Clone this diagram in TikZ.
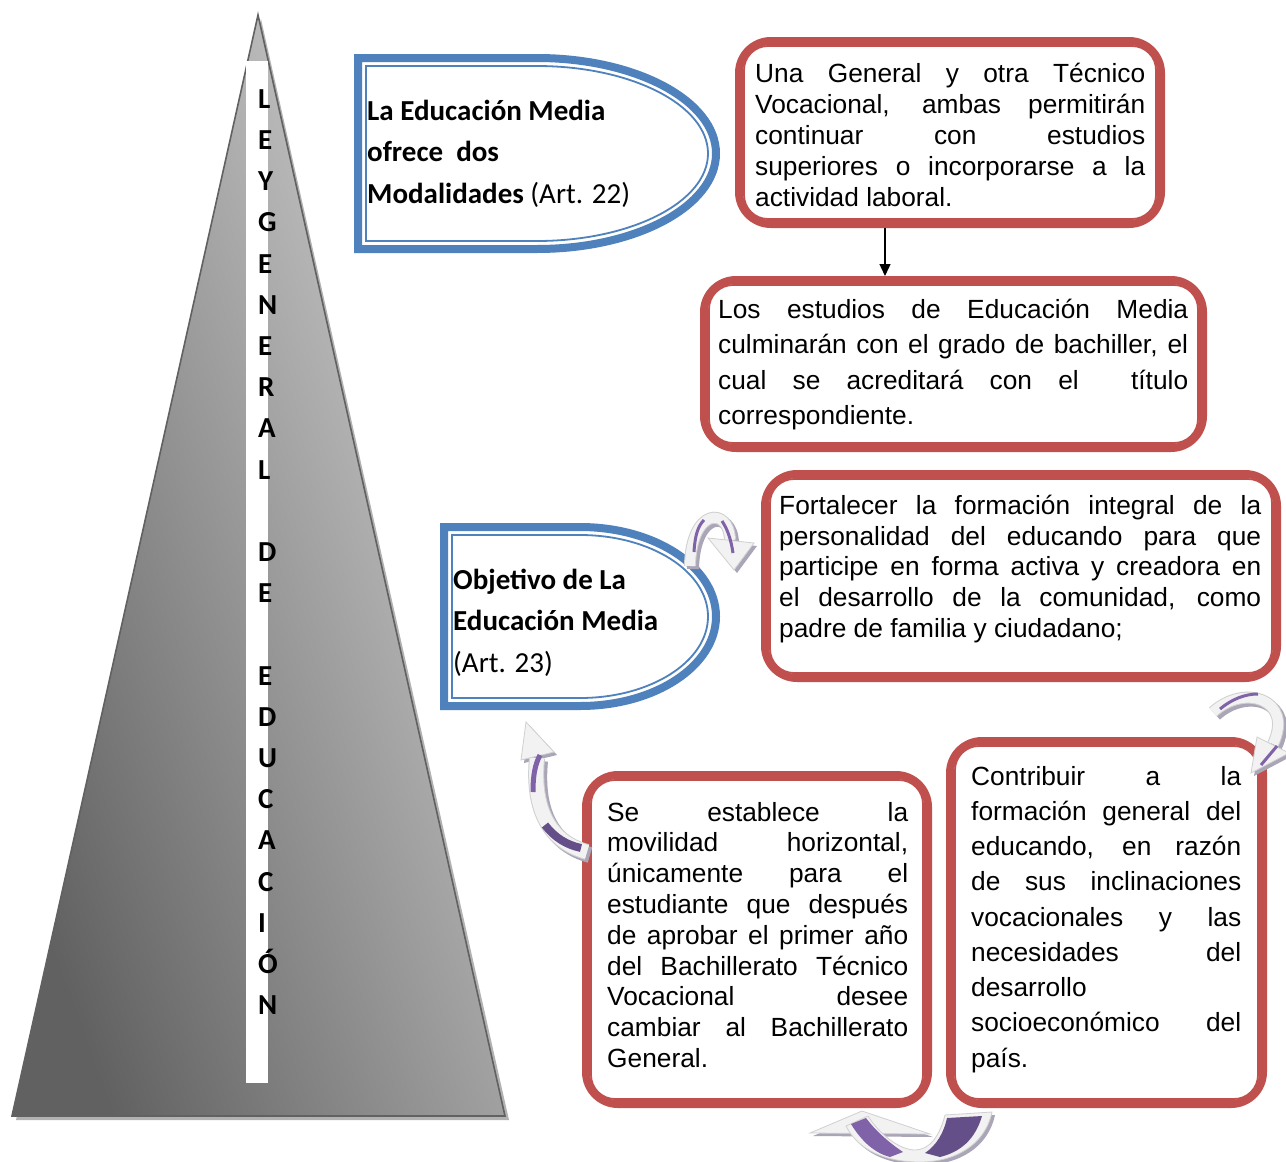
\documentclass[tikz,border=0pt]{standalone}
\usepackage{fontspec}
\setmainfont{Liberation Sans}
\newfontfamily\calfont{Carlito}
\usetikzlibrary{arrows.meta}
\definecolor{redb}{HTML}{C0504D}
\definecolor{blueb}{HTML}{4F81BD}
\definecolor{purp}{HTML}{7F62A8}
\definecolor{purpd}{HTML}{654F88}
\definecolor{abody}{HTML}{F2F2F2}
\definecolor{aedge}{HTML}{D0D0D0}
\definecolor{ashadow}{HTML}{ABA5B8}
\newcommand\J[2]{\makebox[#1][s]{\strut#2}}
\begin{document}
\begin{tikzpicture}[x=1pt,y=-1pt,
  redbox/.style={draw=redb,line width=8pt,rounded corners=32pt,inner sep=0pt,outer sep=4pt},
  redin/.style={draw=redb,line width=1.8pt,rounded corners=24pt},
  bluethick/.style={draw=blueb,line width=8pt},
  bluethin/.style={draw=blueb,line width=1.8pt},
  rtxt/.style={anchor=north west,inner sep=0pt,align=left},
  btxt/.style={anchor=north west,inner sep=0pt,align=left,font=\calfont\bfseries\fontsize{29}{41.5}\selectfont},
  letter/.style={anchor=base west,inner sep=0pt,font=\calfont\bfseries\fontsize{29}{35}\selectfont},
  ashad/.style={transform canvas={shift={(3pt,-3pt)}}},
  conn/.style={-{Triangle[length=12pt,width=11pt]},line width=1.4pt,black}
]
\useasboundingbox (0,0) rectangle (1286,1162);
\fill[white] (0,0) rectangle (1286,1162);

% ---------- pyramid ----------
\fill[black!30] (261,19) -- (509,1120) -- (16,1120) -- cycle;
\shade[top color=black!62,bottom color=black!18,shading angle=110] (258,15) -- (505,1116) -- (12,1116) -- cycle;
\draw[black!62,line width=1.6pt,line join=miter] (258,15) -- (505,1116) -- (12,1116) -- cycle;
\fill[white] (246,61) rectangle (268,1083);
\foreach \l/\k [count=\i] in {L/0,E/1,Y/2,G/3,E/4,N/5,E/6,R/7,A/8,L/9,D/11,E/12,E/14,D/15,U/16,C/17,A/18,C/19,I/20,Ó/21,N/22}
  \node[letter] (l\i) at (258,{108.3+41.2*\k}) {\l};

% ---------- blue shapes ----------
\draw[bluethick] (358,58) -- (537,58) arc[start angle=270,end angle=450,x radius=179,y radius=95.5] -- (358,249) -- cycle;
\draw[bluethin] (366,66) -- (537,66) arc[start angle=270,end angle=450,x radius=171,y radius=87.5] -- (366,241) -- cycle;
\node[btxt] (bt1) at (367,91) {\strut La Educación Media\\\strut ofrece\ \ dos\\\strut Modalidades {\mdseries (Art. 22)}};

\draw[bluethick] (444,527) -- (580,527) arc[start angle=270,end angle=450,x radius=136,y radius=89.5] -- (444,706) -- cycle;
\draw[bluethin] (452,535) -- (580,535) arc[start angle=270,end angle=450,x radius=128,y radius=81.5] -- (452,698) -- cycle;
\node[btxt] (bt2) at (453,560) {\strut Objetivo de La\\\strut Educación Media\\\strut {\mdseries (Art. 23)}};

% ---------- red boxes ----------
\node[redbox,minimum width=422pt,minimum height=183pt] (b1) at (950,132.5) {};
\node[redbox,minimum width=499pt,minimum height=168pt] (b2) at (953.5,364) {};
\node[redbox,minimum width=512pt,minimum height=204pt] (b3) at (1021,576) {};
\node[redbox,minimum width=342pt,minimum height=329pt] (b4) at (757,939.5) {};
\node[redbox,minimum width=313pt,minimum height=363pt] (b5) at (1106.5,922.5) {};
\foreach \b in {b1,b2,b3,b4,b5}
  \draw[redin] ([shift={(9,9)}]\b.north west) rectangle ([shift={(-9,-9)}]\b.south east);

\node[rtxt,font=\fontsize{26.3}{31}\selectfont] (t1) at (755,60.3) {%
\J{390pt}{Una General y otra Técnico}\\
\J{390pt}{Vocacional, ambas permitirán}\\
\J{390pt}{continuar con estudios}\\
\J{390pt}{superiores o incorporarse a la}\\
\strut actividad laboral.};

\node[rtxt,font=\fontsize{26.3}{35.5}\selectfont] (t2) at (718,293.2) {%
\J{470pt}{Los estudios de Educación Media}\\
\J{470pt}{culminarán con el grado de bachiller, el}\\
\J{470pt}{cual se acreditará con el\ \ título}\\
\strut correspondiente.};

\node[rtxt,font=\fontsize{26.3}{30.8}\selectfont] (t3) at (779,492.5) {%
\J{482pt}{Fortalecer la formación integral de la}\\
\J{482pt}{personalidad del educando para que}\\
\J{482pt}{participe en forma activa y creadora en}\\
\J{482pt}{el desarrollo de la comunidad, como}\\
\strut padre de familia y ciudadano;};

\node[rtxt,font=\fontsize{26.3}{30.8}\selectfont] (t4) at (607,799.4) {%
\J{301pt}{Se establece la}\\
\J{301pt}{movilidad horizontal,}\\
\J{301pt}{únicamente para el}\\
\J{301pt}{estudiante que después}\\
\J{301pt}{de aprobar el primer año}\\
\J{301pt}{del Bachillerato Técnico}\\
\J{301pt}{Vocacional desee}\\
\J{301pt}{cambiar al Bachillerato}\\
\strut General.};

\node[rtxt,font=\fontsize{26.3}{35.25}\selectfont] (t5) at (971,760.3) {%
\J{270pt}{Contribuir a la}\\
\J{270pt}{formación general del}\\
\J{270pt}{educando, en razón}\\
\J{270pt}{de sus inclinaciones}\\
\J{270pt}{vocacionales y las}\\
\J{270pt}{necesidades del}\\
\strut desarrollo\\
\J{270pt}{socioeconómico del}\\
\strut país.};

% ---------- connector ----------
\coordinate (ax) at (885,0);
\draw[conn] (ax |- b1.south) -- (ax |- b2.north);

% ---------- curved arrows ----------
% arrow 1
\begin{scope}[ashad]
\draw[ashadow,line width=12pt] (690,566) .. controls (691,508) and (729,506) .. (730,540);
\fill[ashadow] (708,538) -- (754,543) -- (734,570) -- cycle;
\end{scope}
\draw[aedge,line width=12pt] (690,566) .. controls (691,508) and (729,506) .. (730,540);
\draw[abody,line width=10pt] (690,566) .. controls (691,508) and (729,506) .. (730,540);
\fill[abody,draw=aedge,line width=.8pt] (708,538) -- (754,543) -- (734,570) -- cycle;
\draw[purp,line width=3pt] (694,552) .. controls (695,535) and (698,526) .. (704,520);
\draw[purp,line width=3pt] (722,521) .. controls (728,530) and (731,540) .. (733,553);

% arrow 2
\begin{scope}[ashad]
\draw[ashadow,line width=12pt] (1213,712) .. controls (1245,683) and (1294,700) .. (1273,744);
\fill[ashadow] (1257,737) -- (1289,753) -- (1251,773) -- cycle;
\end{scope}
\draw[aedge,line width=12pt] (1213,712) .. controls (1245,683) and (1294,700) .. (1273,744);
\draw[abody,line width=10pt] (1213,712) .. controls (1245,683) and (1294,700) .. (1273,744);
\fill[abody,draw=aedge,line width=.8pt] (1257,737) -- (1289,753) -- (1251,773) -- cycle;
\draw[purp,line width=3pt] (1220,709) .. controls (1232,699) and (1245,694) .. (1258,694);
\draw[purp,line width=3pt] (1277,746) -- (1261,765);

% arrow 3
\begin{scope}[ashad]
\draw[ashadow,line width=16pt] (587,852) .. controls (550,842) and (532,810) .. (537,758);
\fill[ashadow] (521,760) -- (554,752) -- (526,722) -- cycle;
\end{scope}
\draw[aedge,line width=16pt] (587,852) .. controls (550,842) and (532,810) .. (537,758);
\draw[abody,line width=14pt] (587,852) .. controls (550,842) and (532,810) .. (537,758);
\fill[abody,draw=aedge,line width=.8pt] (521,760) -- (554,752) -- (526,722) -- cycle;
\draw[purp,line width=5pt] (533,792) .. controls (533,775) and (535,765) .. (540,755);
\draw[purpd,line width=8pt] (545,825) .. controls (555,838) and (567,845) .. (581,848);

% arrow 4
\begin{scope}[ashad]
\fill[ashadow] (810,1133) -- (862,1111) -- (930,1134) -- cycle;
\fill[ashadow] (846,1126) .. controls (858,1150) and (885,1162) .. (920,1162) .. controls (955,1162) and (985,1145) .. (992,1112) -- (945,1115) .. controls (940,1135) and (930,1150) .. (915,1150) .. controls (900,1150) and (880,1135) .. (868,1116) -- cycle;
\end{scope}
\fill[abody,draw=aedge,line width=.8pt] (810,1133) -- (862,1111) -- (930,1134) -- cycle;
\fill[abody,draw=aedge,line width=.8pt] (846,1126) .. controls (858,1150) and (885,1162) .. (920,1162) .. controls (955,1162) and (985,1145) .. (992,1112) -- (945,1115) .. controls (940,1135) and (930,1150) .. (915,1150) .. controls (900,1150) and (880,1135) .. (868,1116) -- cycle;
\fill[purp] (851,1124) .. controls (862,1142) and (875,1153) .. (890,1157) -- (903,1152) .. controls (888,1142) and (875,1130) .. (866,1118) -- cycle;
\fill[purpd] (947,1118) -- (982,1116) .. controls (975,1140) and (960,1152) .. (940,1157) -- (925,1153) .. controls (937,1145) and (944,1132) .. (947,1118) -- cycle;
\end{tikzpicture}
\end{document}
